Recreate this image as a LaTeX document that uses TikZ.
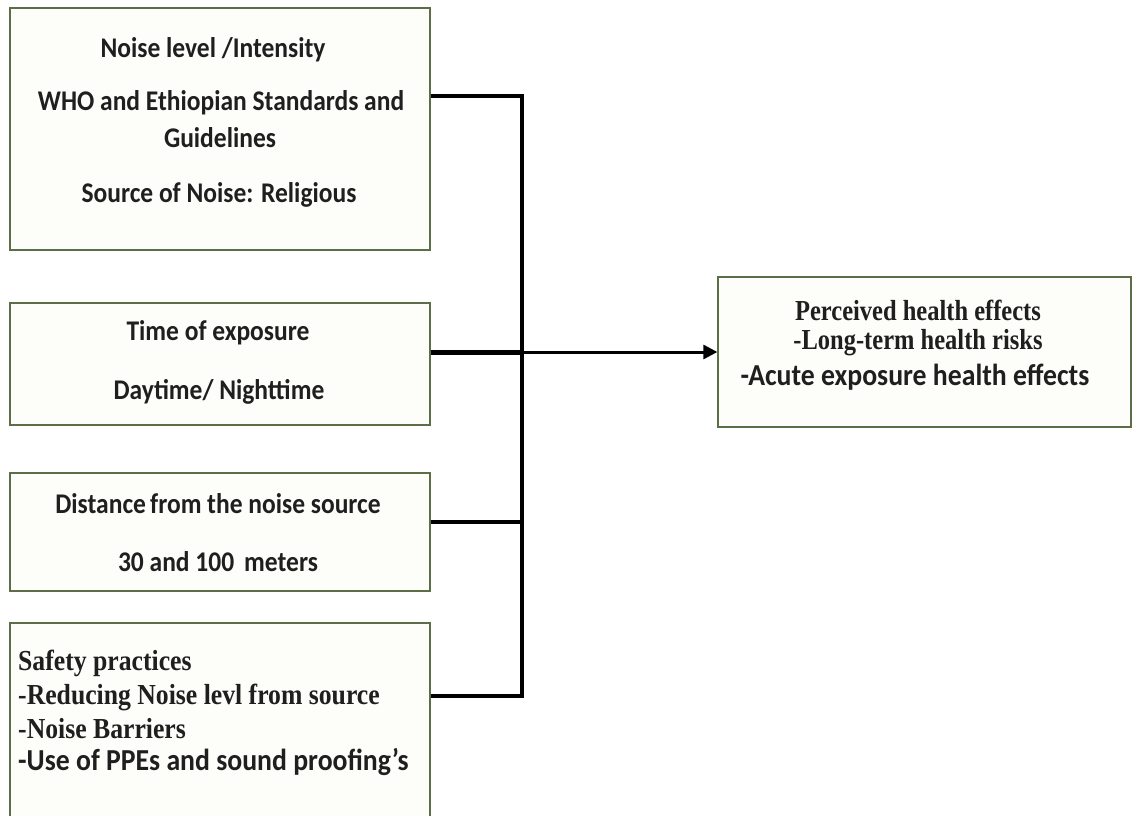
\documentclass[tikz,border=0pt]{standalone}
\usepackage{graphicx}
\usepackage{fontspec}
\setmainfont{Carlito}
\newfontfamily\calfont{Carlito}
\newfontfamily\tmsfont{Liberation Serif}
\usetikzlibrary{arrows.meta}
\definecolor{boxedge}{RGB}{92,110,72}
\definecolor{boxfill}{RGB}{253,254,249}
\newcommand{\hsq}[2]{\scalebox{#1}[1]{#2}}
\tikzset{
  box/.style={draw=boxedge, fill=boxfill, line width=1.3pt, inner sep=0pt, anchor=center},
  caltext/.style={font=\calfont\bfseries\fontsize{28.5}{32}\selectfont, inner sep=0pt, text=black!88},
  calbig/.style={font=\calfont\bfseries\fontsize{30.5}{34}\selectfont, inner sep=0pt, text=black!88},
  tmstext/.style={font=\tmsfont\bfseries\fontsize{29}{33}\selectfont, inner sep=0pt, text=black!88},
  conn/.style={line width=4pt, line join=miter, black},
  arrowline/.style={line width=3pt, black, -{Triangle[length=14pt,width=14pt]}}
}
\begin{document}
\begin{tikzpicture}[x=1pt,y=-1pt]
\useasboundingbox (0,0) rectangle (1133,815);
\clip (0,0) rectangle (1133,815);
\fill[white] (0,0) rectangle (1133,815);
% boxes
\node[box, minimum width=420pt, minimum height=242pt] (b1) at (220,129) {};
\node[box, minimum width=420pt, minimum height=122pt] (b2) at (220,364) {};
\node[box, minimum width=420pt, minimum height=118pt] (b3) at (220,532) {};
\node[box, minimum width=420pt, minimum height=210pt] (b4) at (220,728) {};
\node[box, minimum width=413pt, minimum height=150pt] (out) at (924.5,352) {};
% texts
\node[caltext] (t11) at (213,50) {\hsq{0.895}{Noise level /Intensity}};
\node[caltext] (t12) at (221,103) {\hsq{0.895}{WHO and Ethiopian Standards and}};
\node[caltext] (t13) at (220,138) {\hsq{0.895}{Guidelines}};
\node[caltext] (t14) at (219,195) {\hsq{0.895}{Source of Noise: Religious}};
\node[caltext] (t21) at (218,333) {\hsq{0.895}{Time of exposure}};
\node[caltext] (t22) at (219,392) {\hsq{0.895}{Daytime/ Nighttime}};
\node[caltext] (t31) at (218,504) {\hsq{0.895}{Distance\,from the noise source}};
\node[caltext] (t32) at (218,562) {\hsq{0.895}{30 and 100 \,meters}};
\node[tmstext, anchor=west] (t41) at (18,663) {\hsq{0.886}{Safety practices}};
\node[tmstext, anchor=west] (t42) at (18,697) {\hsq{0.886}{-Reducing Noise levl from source}};
\node[tmstext, anchor=west] (t43) at (18,729) {\hsq{0.886}{-Noise Barriers}};
\node[calbig, anchor=west] (t44) at (18,762) {\hsq{0.91}{-Use of PPEs and sound proofing’s}};
\node[tmstext] (o1) at (918,310) {\hsq{0.845}{Perceived health effects}};
\node[tmstext] (o2) at (918,343) {\hsq{0.845}{-Long-term health risks}};
\node[calbig] (o3) at (915,377) {\hsq{0.91}{-Acute exposure health effects}};
% connectors
\coordinate (v1) at (522,96);
\coordinate (v2) at (522,352);
\coordinate (v3) at (522,522);
\coordinate (v4) at (522,696);
\draw[conn] (b1.east |- v1) -- (v1) -- (v4) -- (b4.east |- v4);
\draw[conn, line width=5pt] (b2.east |- v2) -- (v2);
\draw[conn] (b3.east |- v3) -- (v3);
\draw[arrowline] (v2) -- (out.west);
\end{tikzpicture}
\end{document}
